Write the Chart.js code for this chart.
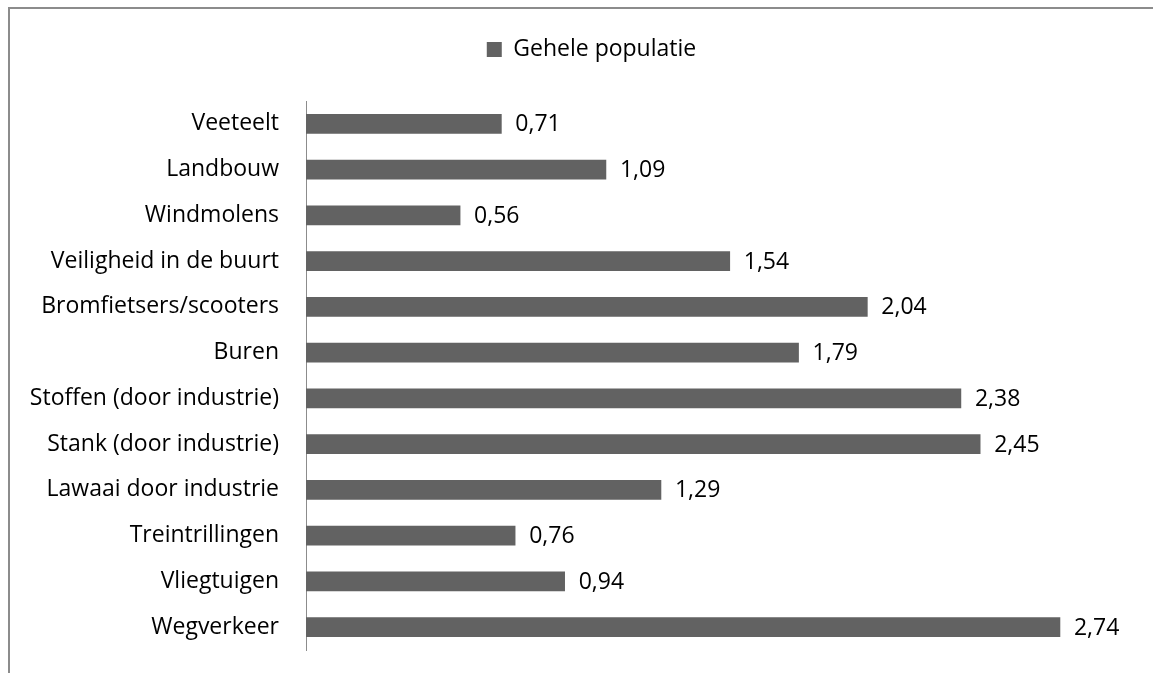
<!DOCTYPE html>
<html>
<head>
<meta charset="utf-8">
<script src="https://cdn.jsdelivr.net/npm/chart.js@4"></script>
<style>
html,body{margin:0;padding:0;background:#fff;overflow:hidden;}
#wrap{position:relative;width:1153px;height:673px;}
#frame{position:absolute;left:8px;top:7px;width:2000px;height:2000px;border-left:2px solid #8c8c8c;border-top:2px solid #8c8c8c;pointer-events:none;}
</style>
</head>
<body>
<div id="wrap">
<canvas id="c" width="1153" height="673"></canvas>
<div id="frame"></div>
</div>
<script>
const categories = ["Veeteelt","Landbouw","Windmolens","Veiligheid in de buurt","Bromfietsers/scooters","Buren","Stoffen (door industrie)","Stank (door industrie)","Lawaai door industrie","Treintrillingen","Vliegtuigen","Wegverkeer"];
const seriesName = "Gehele populatie";
const values = [0.71,1.09,0.56,1.54,2.04,1.79,2.38,2.45,1.29,0.76,0.94,2.74];

const FONT = "'Open Sans', sans-serif";
const FSIZE = 23;
const fmt = v => v.toFixed(2).replace('.', ',');

const valueLabels = {
  id: 'valueLabels',
  afterDatasetsDraw(chart) {
    const ctx = chart.ctx;
    const meta = chart.getDatasetMeta(0);
    ctx.save();
    ctx.font = FSIZE + "px " + FONT;
    ctx.fillStyle = "#000";
    ctx.textAlign = "left";
    ctx.textBaseline = "middle";
    meta.data.forEach((bar, i) => {
      ctx.fillText(fmt(values[i]), bar.x + 14, bar.y + 1);
    });
    ctx.restore();
  }
};

const legendFit = {
  id: 'legendFit',
  beforeInit(chart) {
    const lg = chart.legend;
    const orig = lg.fit;
    lg.fit = function() { orig.call(this); this.height = 101; };
  },
  beforeDraw(chart) {
    chart.legend.left = 30;
    chart.legend.right = 1153;
  }
};

new Chart(document.getElementById('c'), {
  type: 'bar',
  data: {
    labels: categories,
    datasets: [{
      label: seriesName,
      data: values,
      backgroundColor: '#626262',
      borderWidth: 0,
      barThickness: 19
    }]
  },
  options: {
    indexAxis: 'y',
    responsive: false,
    animation: false,
    layout: { padding: { left: 0, right: 21.5, top: 0, bottom: 23 } },
    scales: {
      x: { display: false, min: 0, max: 3 },
      y: {
        afterFit(scale) { scale.width = 306; scale.paddingTop = 0; scale.paddingBottom = 0; },
        grid: { display: false, drawTicks: false },
        border: { display: true, color: '#8c8c8c', width: 1 },
        ticks: { font: { size: FSIZE, family: FONT }, color: '#000', padding: 27 }
      }
    },
    plugins: {
      legend: {
        position: 'top',
        labels: {
          font: { size: FSIZE, family: FONT },
          color: '#000',
          boxWidth: 15,
          boxHeight: 15,
          padding: 38
        }
      },
      tooltip: { enabled: false }
    }
  },
  plugins: [legendFit, valueLabels]
});
</script>
</body>
</html>
